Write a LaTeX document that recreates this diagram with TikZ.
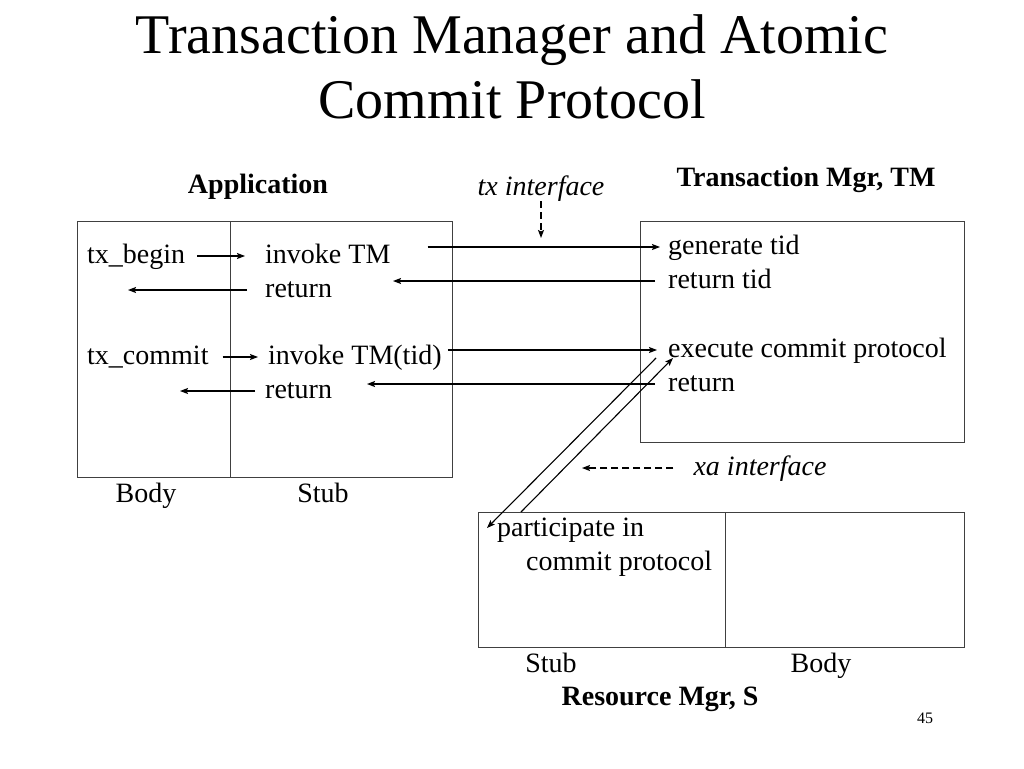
\documentclass[tikz,border=0pt]{standalone}
\usepackage{fontspec}
\setmainfont{Liberation Serif}
\usepackage{tikz}
\usetikzlibrary{arrows.meta}
\usetikzlibrary{positioning}

\begin{document}
\begin{tikzpicture}[x=1pt,y=-1pt,>={Stealth[length=8pt,width=6pt,inset=1.5pt]},
                    box/.style={draw,line width=0.9pt,black!75},
                    txt/.style={anchor=west,inner sep=0pt,text height=20pt,text depth=6pt,
                                font=\fontsize{28}{30}\selectfont},
                    lbl/.style={inner sep=0pt,text height=20pt,text depth=6pt,
                                font=\fontsize{28}{30}\selectfont},
                    head/.style={lbl,font=\fontsize{28}{30}\selectfont\bfseries},
                    iface/.style={lbl,font=\fontsize{28}{30}\selectfont\itshape},
                    call/.style={->,line width=1.1pt},
                    dashcall/.style={->,line width=1.1pt,dash pattern=on 7pt off 4pt}]

  \useasboundingbox (0,0) rectangle (1024,768);

  % title
  \node[align=center,font=\fontsize{56}{65}\selectfont] (title) at (512,67)
    {Transaction Manager and Atomic\\Commit Protocol};

  % boxes
  \draw[box] (77,221) rectangle (452,477);
  \draw[box] (230,221) -- (230,477);
  \draw[box] (640,221) rectangle (964,442);
  \draw[box] (478,512) rectangle (964,647);
  \draw[box] (725,512) -- (725,647);

  % headings and captions
  \node[head] (app) at (258,186) {Application};
  \node[head] (tm) at (806,179) {Transaction Mgr, TM};
  \node[head] (rm) at (660,698) {Resource Mgr, S};
  \node[iface] (txif) at (541,188) {tx interface};
  \node[iface] (xaif) at (760,468) {xa interface};
  \node[lbl] (appbody) at (146,495) {Body};
  \node[lbl] (appstub) at (323,495) {Stub};
  \node[lbl] (rmstub) at (551,665) {Stub};
  \node[lbl] (rmbody) at (821,665) {Body};
  \node[inner sep=0pt,font=\fontsize{16}{18}\selectfont] (page) at (925,718) {45};

  % application body and stub
  \node[txt] (txbegin) at (87,256) {tx\_begin};
  \node[txt] (invoke1) at (265,256) {invoke TM};
  \node[txt] (return1) at (265,290) {return};
  \node[txt] (txcommit) at (87,357) {tx\_commit};
  \node[txt] (invoke2) at (268,357) {invoke TM(tid)};
  \node[txt] (return2) at (265,391) {return};

  % transaction manager
  \node[txt] (gentid) at (668,247) {generate tid};
  \node[txt] (rettid) at (668,281) {return tid};
  \node[txt] (exec) at (668,350) {execute commit protocol};
  \node[txt] (tmreturn) at (668,384) {return};

  % resource manager
  \node[txt] (particip) at (497,529) {participate in};
  \node[txt] (commitp) at (526,563) {commit protocol};

  \coordinate (r1end) at (128,290);
  \coordinate (r2end) at (180,391);
  \coordinate (txend) at (541,238);
  \coordinate (xaend) at (582,468);

  \draw[call,shorten <=12pt,shorten >=20pt] (txbegin) -- (invoke1);
  \draw[call,shorten <=18pt] (return1) -- (r1end);
  \draw[call,shorten <=14pt,shorten >=10pt] (txcommit) -- (invoke2);
  \draw[call,shorten <=10pt] (return2) -- (r2end);

  \draw[call,shorten <=37pt,shorten >=8pt] (invoke1.east |- gentid.west) -- (gentid.west);
  \draw[call,shorten <=13pt,shorten >=128pt] (rettid.west) -- (return1.west |- rettid.west);
  \draw[call,shorten <=6pt,shorten >=11pt] (invoke2.east |- exec.west) -- (exec.west);
  \draw[call,shorten <=13pt,shorten >=102pt] (tmreturn.west) -- (return2.west |- tmreturn.west);

  \draw[call] ([shift={(-12,8)}]exec.west) -- ([shift={(-10,-1)}]particip.west);
  \draw[call] ([shift={(24,-17)}]particip.west) -- ([shift={(5,8)}]exec.west);

  \draw[dashcall] (txif) -- (txend);
  \draw[dashcall,shorten <=20pt] (xaif) -- (xaend);

\end{tikzpicture}
\end{document}
